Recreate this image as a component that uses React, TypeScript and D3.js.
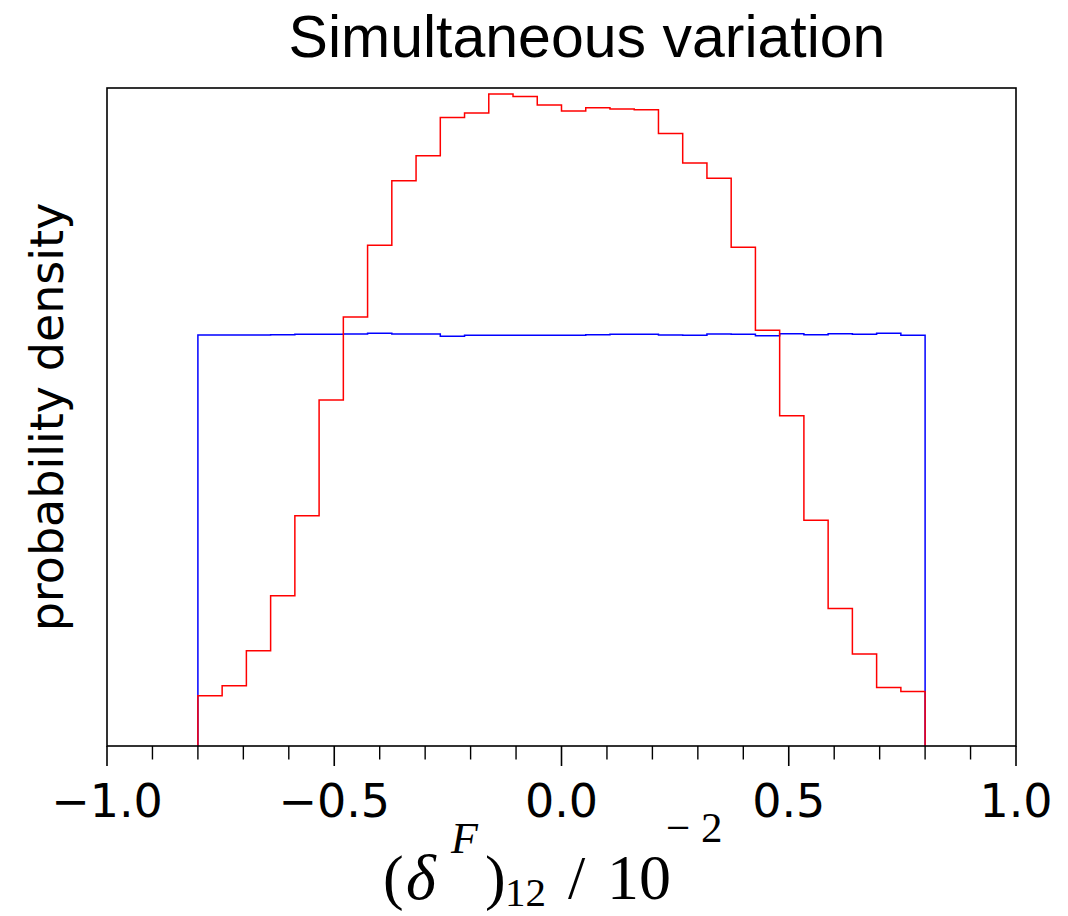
import React from "react";
import * as d3 from "d3";

// ---- data ----
const binStart = -0.8;
const binEnd = 0.8;
const redDensity = [
  0.0764, 0.0916, 0.1448, 0.2284, 0.35, 0.526, 0.652, 0.761, 0.859, 0.897,
  0.955, 0.962, 0.991, 0.987, 0.974, 0.965, 0.97, 0.968, 0.967, 0.931,
  0.886, 0.863, 0.758, 0.632, 0.502, 0.343, 0.209, 0.14, 0.089, 0.083,
];
const blueDensity = [
  0.6246, 0.6246, 0.6246, 0.6251, 0.6257, 0.6257, 0.6261, 0.6272, 0.6261, 0.6261,
  0.6226, 0.6242, 0.6242, 0.6242, 0.6242, 0.6242, 0.6251, 0.6257, 0.6257, 0.6246,
  0.6242, 0.6261, 0.6257, 0.6236, 0.6266, 0.6251, 0.6266, 0.6257, 0.6272, 0.6242,
];
const majorTicks = [-1, -0.5, 0, 0.5, 1];
const majorLabels = ["\u22121.0", "\u22120.5", "0.0", "0.5", "1.0"];
const minorTicks = [-0.9, -0.8, -0.7, -0.6, -0.4, -0.3, -0.2, -0.1, 0.1, 0.2, 0.3, 0.4, 0.6, 0.7, 0.8, 0.9];
const xDomain = [-1, 1];
const yDomain = [0, 1];
const title = "Simultaneous variation";
const yLabel = "probability density";

const W = 1068;
const H = 916;
const M = { left: 107, right: 52, top: 88, bottom: 170 };

export default function App() {
  const x = d3.scaleLinear().domain(xDomain).range([M.left, W - M.right]);
  const y = d3.scaleLinear().domain(yDomain).range([H - M.bottom, M.top]);

  const stepPath = (vals: number[]) => {
    const n = vals.length;
    const w = (binEnd - binStart) / n;
    const pts: [number, number][] = [[binStart, 0]];
    vals.forEach((v, i) => {
      pts.push([binStart + i * w, v]);
      pts.push([binStart + (i + 1) * w, v]);
    });
    pts.push([binEnd, 0]);
    return d3
      .line<[number, number]>()
      .x((d) => x(d[0]))
      .y((d) => y(d[1]))(pts) as string;
  };

  const x0 = M.left;
  const x1 = W - M.right;
  const yB = H - M.bottom;
  const yT = M.top;
  const tickFont = "'DejaVu Sans', sans-serif";
  const mathFont = "'Liberation Serif', 'DejaVu Serif', serif";

  return (
    <svg
      width={W}
      height={H}
      style={{ position: "absolute", left: 0, top: 0, background: "#fff" }}
    >
      <rect x={0} y={0} width={W} height={H} fill="#fff" />
      <path d={stepPath(blueDensity)} fill="none" stroke="#0000ff" strokeWidth={1.5} />
      <path d={stepPath(redDensity)} fill="none" stroke="#ff0000" strokeWidth={1.5} />
      {/* spines */}
      <rect x={x0} y={yT} width={x1 - x0} height={yB - yT} fill="none" stroke="#000" strokeWidth={1.6} />
      {/* ticks */}
      {majorTicks.map((t, i) => (
        <g key={"M" + i}>
          <line x1={x(t)} x2={x(t)} y1={yB} y2={yB + 20} stroke="#000" strokeWidth={1.6} />
          <text
            x={x(t)}
            y={817}
            textAnchor="middle"
            fontFamily={tickFont}
            fontSize={46}
            fill="#000"
          >
            {majorLabels[i]}
          </text>
        </g>
      ))}
      {minorTicks.map((t, i) => (
        <line key={"m" + i} x1={x(t)} x2={x(t)} y1={yB} y2={yB + 13.5} stroke="#000" strokeWidth={1.4} />
      ))}
      {/* title */}
      <text x={587} y={57} textAnchor="middle" fontFamily="'Liberation Sans', Arial, sans-serif" fontSize={59} fill="#000">
        {title}
      </text>
      {/* y label */}
      <text
        transform={`translate(63, ${(yT + yB) / 2}) rotate(-90)`}
        textAnchor="middle"
        fontFamily={tickFont}
        fontSize={46}
        fill="#000"
      >
        {yLabel}
      </text>
      {/* x label: (δ^F)_12 / 10^-2 */}
      <g fontFamily={mathFont} fill="#000">
        <text x={383} y={898} fontSize={62}>(</text>
        <text x={406} y={899} fontSize={64} fontStyle="italic">δ</text>
        <text x={451} y={853} fontSize={44} fontStyle="italic">F</text>
        <text x={485} y={898} fontSize={62}>)</text>
        <text x={505} y={906} fontSize={41}>12</text>
        <text x={568} y={898} fontSize={62}>/</text>
        <text x={607} y={899} fontSize={64}>10</text>
        <text x={666} y={842} fontSize={43}>{"\u2212"}</text>
        <text x={701} y={842} fontSize={43}>2</text>
      </g>
    </svg>
  );
}
